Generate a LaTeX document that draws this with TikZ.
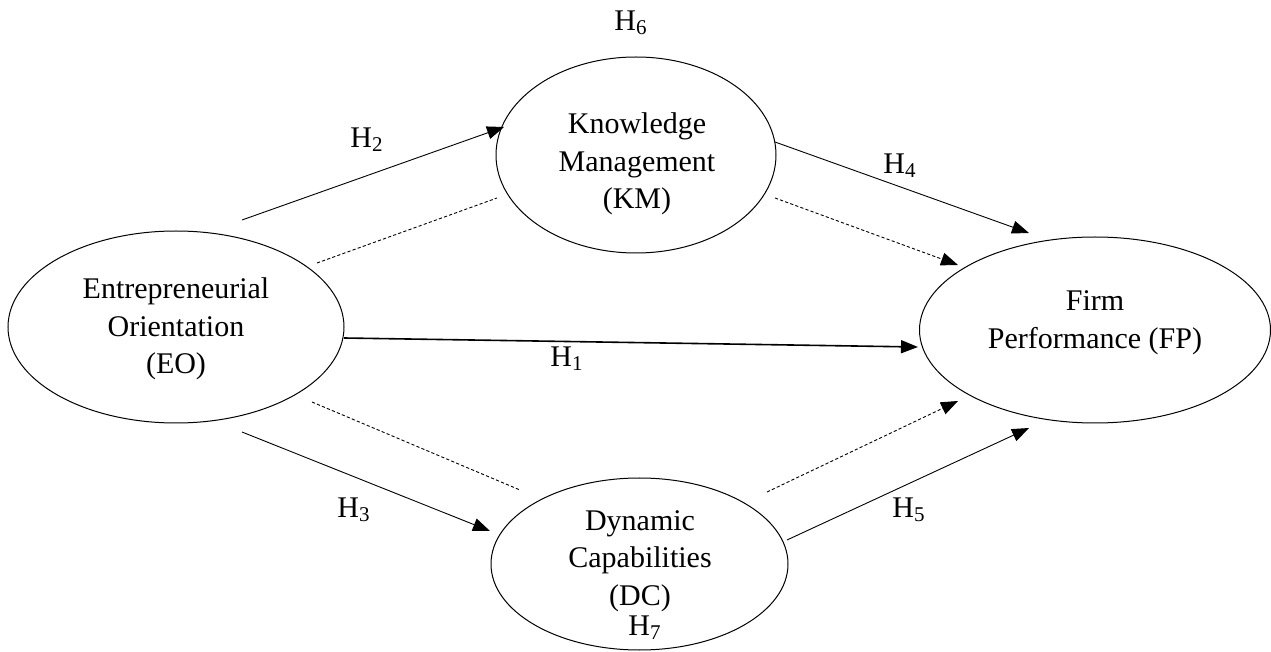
\documentclass[tikz,border=0pt]{standalone}
\usepackage{fontspec}
\setmainfont{Liberation Serif}
\usetikzlibrary{shapes.geometric,arrows.meta}
\tikzset{
  x=0.5pt, y=-0.5pt,
  construct/.style={draw, ellipse, line width=0.5pt, inner sep=0pt},
  ctext/.style={align=center, inner sep=0pt, font=\fontsize{15}{18.75}\selectfont},
  hyp/.style={font=\fontsize{15}{16}\selectfont, inner sep=1pt},
  tip/.style={-{Triangle[length=8.5pt,width=6.5pt]}},
  link/.style={line width=0.45pt, tip},
  mainlink/.style={line width=0.8pt, tip},
  medlink/.style={line width=0.45pt, dash pattern=on 1.6pt off 1.1pt},
}
\begin{document}
\begin{tikzpicture}
\useasboundingbox (0,0) rectangle (1271,652);
% constructs
\node[construct, minimum width=168pt, minimum height=96pt] (EO) at (176,327) {};
\node[ctext] (EOt) at (176,329) {Entrepreneurial\\Orientation\\(EO)};
\node[construct, minimum width=140pt, minimum height=98pt] (KM) at (636,155) {};
\node[ctext] (KMt) at (637,164) {Knowledge\\Management\\(KM)};
\node[construct, minimum width=175.5pt, minimum height=93pt] (FP) at (1095,330) {};
\node[ctext] (FPt) at (1095,323) {Firm\\Performance (FP)};
\node[construct, minimum width=148.5pt, minimum height=86pt] (DC) at (639.5,564) {};
\node[ctext] (DCt) at (640,561) {Dynamic\\Capabilities\\(DC)};
% free ends
\coordinate (h2s) at (242,220);  \coordinate (h2e) at (504,127);
\coordinate (d1s) at (317,263);  \coordinate (d1e) at (497,198);
\coordinate (h4s) at (775,142);  \coordinate (h4e) at (1029,233);
\coordinate (d2s) at (775,198);  \coordinate (d2e) at (958,265);
\coordinate (h1s) at (344,338);  \coordinate (h1e) at (918,347);
\coordinate (d3s) at (312,402);  \coordinate (d3e) at (520,490);
\coordinate (h3s) at (242,432);  \coordinate (h3e) at (490,531);
\coordinate (d4s) at (767,492);  \coordinate (d4e) at (958,401);
\coordinate (h5s) at (787,540);  \coordinate (h5e) at (1029,428);
% connectors
\draw[link] (h2s) -- (h2e);
\draw[medlink] (d1s) -- (d1e);
\draw[link] (h4s) -- (h4e);
\draw[medlink, tip] (d2s) -- (d2e);
\draw[mainlink] (h1s) -- (h1e);
\draw[medlink] (d3s) -- (d3e);
\draw[link] (h3s) -- (h3e);
\draw[medlink, tip] (d4s) -- (d4e);
\draw[link] (h5s) -- (h5e);
% hypothesis labels
\node[hyp] (H1) at (567,359) {H\textsubscript{1}};
\node[hyp] (H2) at (367,140) {H\textsubscript{2}};
\node[hyp] (H3) at (354,510) {H\textsubscript{3}};
\node[hyp] (H4) at (900,166) {H\textsubscript{4}};
\node[hyp] (H5) at (909,510) {H\textsubscript{5}};
\node[hyp] (H6) at (631,23) {H\textsubscript{6}};
\node[hyp] (H7) at (645,628) {H\textsubscript{7}};
\end{tikzpicture}
\end{document}
